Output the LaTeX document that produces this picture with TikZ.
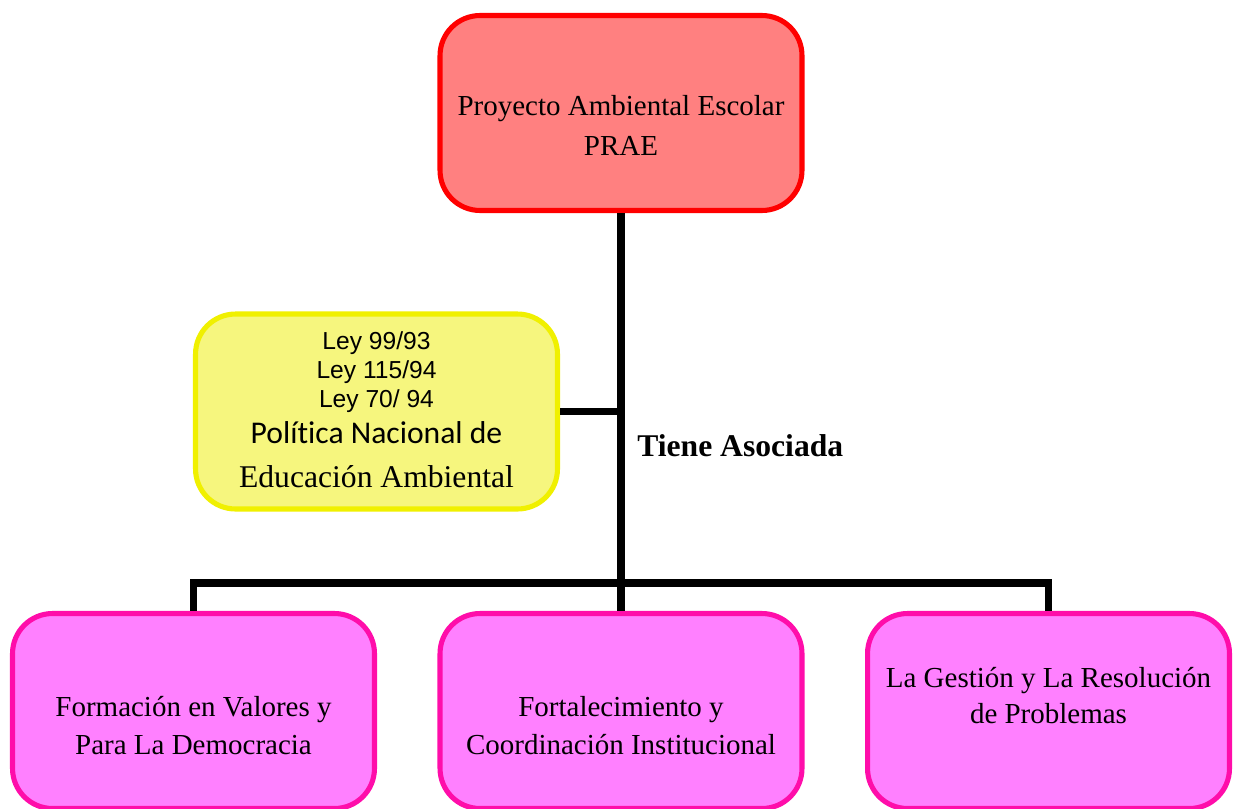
\documentclass[tikz,border=0pt]{standalone}
\usepackage{fontspec}
\setmainfont{Liberation Serif}
\newfontfamily\leyfont{Liberation Sans}
\newfontfamily\calfont[Ligatures=NoCommon]{Carlito}
\definecolor{praefondo}{HTML}{FF8080}
\definecolor{praeborde}{HTML}{FF0000}
\definecolor{leyfondo}{HTML}{F6F67E}
\definecolor{leyborde}{HTML}{F0F000}
\definecolor{ejefondo}{HTML}{FF80FF}
\definecolor{ejeborde}{HTML}{FF0DAA}
\begin{document}
\begin{tikzpicture}[x=0.02cm, y=-0.02cm,
    caja/.style={draw, rounded corners=0.8cm, line width=2.9pt, inner sep=0pt,
      minimum width=7.24cm, minimum height=3.9cm},
    prae/.style={caja, draw=praeborde, fill=praefondo},
    ley/.style={caja, draw=leyborde, fill=leyfondo},
    eje/.style={caja, draw=ejeborde, fill=ejefondo},
    texto/.style={anchor=base, align=center, inner sep=0pt,
      font=\fontsize{16.5}{21.5}\selectfont},
    rama/.style={line width=4.5pt, line join=miter}]
  \useasboundingbox (0,0) rectangle (1239,808);
  \clip (0,0) rectangle (1239,808);
  % cajas
  \node[prae] (proyecto) at (621,113) {};
  \node[ley] (leyes) at (376.5,411.5) {};
  \node[eje] (formacion) at (193.5,711) {};
  \node[eje] (fortalecimiento) at (621,711) {};
  \node[eje] (gestion) at (1048.5,711) {};
  % textos (anclados en la linea base de la ultima linea)
  \node[texto, font=\fontsize{16.5}{22.2}\selectfont] (proyecto-txt) at (621,155)
    {Proyecto Ambiental Escolar\\PRAE};
  \node[texto, font=\fontsize{14}{16.4}\selectfont] (leyes-txt) at (376.5,487)
    {\leyfont Ley 99/93\\
     \leyfont Ley 115/94\\
     \leyfont Ley 70/ 94\\[4.1pt]
     \calfont\fontsize{18}{22}\selectfont Política Nacional de\\[8.6pt]
     \fontsize{18}{22}\selectfont Educación Ambiental};
  \node[texto] (formacion-txt) at (193.5,754)
    {Formación en Valores y\\Para La Democracia};
  \node[texto] (fortalecimiento-txt) at (621,754)
    {Fortalecimiento y\\Coordinación Institucional};
  \node[texto, font=\fontsize{16.5}{20}\selectfont] (gestion-txt) at (1048.5,723)
    {La Gestión y La Resolución\\de Problemas};
  \node[anchor=base west, inner sep=0pt, font=\fontsize{18}{22}\selectfont\bfseries]
    (tiene) at (637,456) {Tiene Asociada};
  % conectores
  \coordinate (cruce) at (621,583);
  \draw[rama] (proyecto.south) -- (cruce);
  \draw[rama] (leyes.east) -- (leyes.east -| cruce);
  \draw[rama] (formacion.north) |- (cruce) -| (gestion.north);
  \draw[rama] (cruce) -- (fortalecimiento.north);
\end{tikzpicture}
\end{document}
